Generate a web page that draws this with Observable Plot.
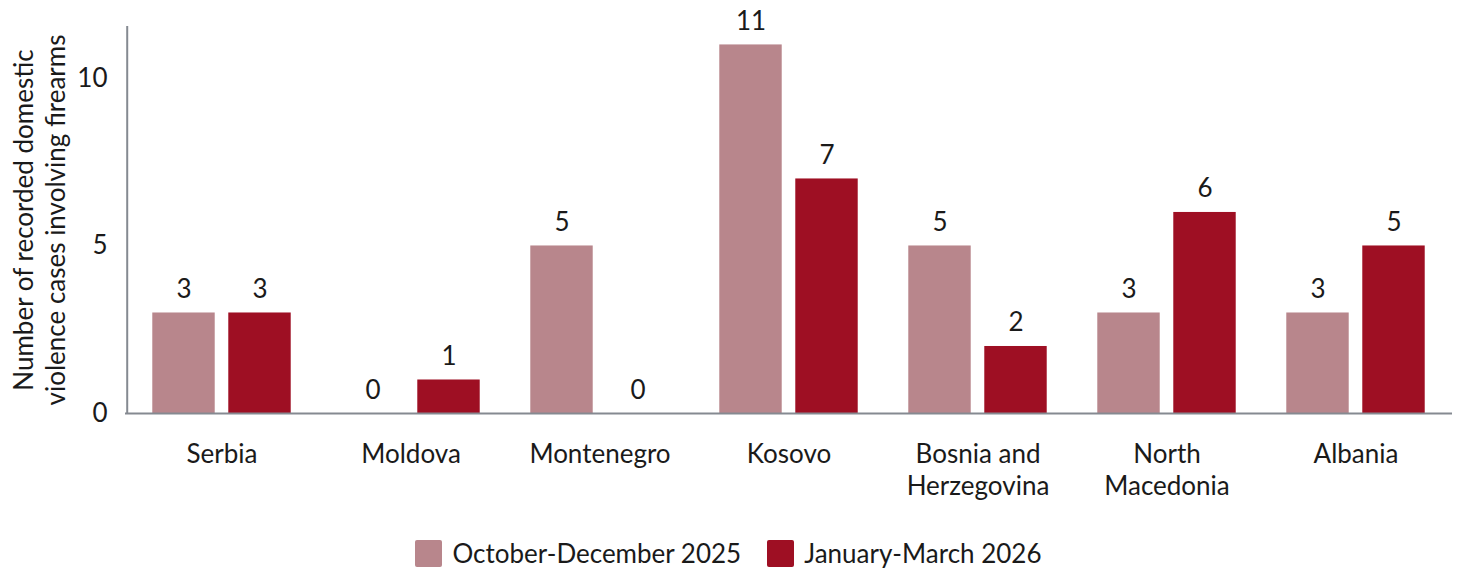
<!DOCTYPE html>
<html>
<head>
<meta charset="utf-8">
<script src="https://cdn.jsdelivr.net/npm/d3@7"></script>
<script src="https://cdn.jsdelivr.net/npm/@observablehq/plot@0.6"></script>
<style>
  html, body { margin: 0; padding: 0; background: #fff; }
  body { width: 1457px; height: 568px; overflow: hidden; font-family: Lato, "Noto Sans", sans-serif; }
  #legend { display: flex; justify-content: center; align-items: center; gap: 26px; margin-top: 12px; font-size: 26px; color: #1a1a1a; }
  .item { display: flex; align-items: center; gap: 10px; }
  .sw { width: 27px; height: 27px; border-radius: 2px; }
</style>
</head>
<body>
<div id="chart"></div>
<div id="legend"></div>
<script>
const countries = ["Serbia", "Moldova", "Montenegro", "Kosovo", "Bosnia and Herzegovina", "North Macedonia", "Albania"];
const tickLabels = ["Serbia", "Moldova", "Montenegro", "Kosovo", "Bosnia and\nHerzegovina", "North\nMacedonia", "Albania"];
const seriesNames = ["October-December 2025", "January-March 2026"];
const octDec2025 = [3, 0, 5, 11, 5, 3, 3];
const janMar2026 = [3, 1, 0, 7, 2, 6, 5];
const colors = ["#b8868c", "#9e0f23"];
const yTicks = [0, 5, 10];
const yTitle = "Number of recorded domestic\nviolence cases involving firearms";

const W = 1457, H = 525;
const mL = 125, mR = 5, mT = 26, mB = 112;
const FS = 26;
const band = (W - mL - mR) / countries.length;
const barW = 63, gap = 13;
const outer = (band - 2 * barW - gap) / 2;
const inner = band - outer - barW;

const d1 = countries.map((c, i) => ({country: c, value: octDec2025[i]}));
const d2 = countries.map((c, i) => ({country: c, value: janMar2026[i]}));
const labelOf = new Map(countries.map((c, i) => [c, tickLabels[i]]));

const axisColor = "#858a91";
const textColor = "#1a1a1a";

const chart = Plot.plot({
  width: W, height: H,
  marginLeft: mL, marginRight: mR, marginTop: mT, marginBottom: mB,
  style: {fontFamily: "Lato, 'Noto Sans', sans-serif", fontSize: FS + "px", color: textColor, background: "#fff"},
  x: {type: "band", domain: countries, padding: 0},
  y: {domain: [0, 11.55]},
  marks: [
    Plot.barY(d1, {x: "country", y: "value", fill: colors[0], insetLeft: outer, insetRight: inner}),
    Plot.barY(d2, {x: "country", y: "value", fill: colors[1], insetLeft: inner, insetRight: outer}),
    Plot.text(d1, {x: "country", y: "value", text: d => String(d.value), dx: -(gap + barW) / 2, dy: -15, lineAnchor: "bottom", fill: textColor, fontSize: FS}),
    Plot.text(d2, {x: "country", y: "value", text: d => String(d.value), dx: (gap + barW) / 2, dy: -15, lineAnchor: "bottom", fill: textColor, fontSize: FS}),
    Plot.ruleY([0], {stroke: axisColor, strokeWidth: 2}),
    Plot.ruleX([countries[0]], {stroke: axisColor, strokeWidth: 2, dx: -band / 2}),
    Plot.axisY({ticks: yTicks, tickSize: 0, tickPadding: 18, label: null, fontSize: FS, color: textColor}),
    Plot.axisX({tickSize: 0, tickPadding: 27.5, label: null, tickFormat: c => labelOf.get(c), lineHeight: 1.21, fontSize: FS, color: textColor}),
    Plot.text([yTitle], {text: d => d, frameAnchor: "left", rotate: -90, dx: -86.5, lineAnchor: "middle", lineHeight: 1.21, textAnchor: "middle", fill: textColor, fontSize: FS})
  ]
});
document.getElementById("chart").appendChild(chart);

const legend = document.getElementById("legend");
seriesNames.forEach((name, i) => {
  const item = document.createElement("div");
  item.className = "item";
  const sw = document.createElement("div");
  sw.className = "sw";
  sw.style.background = colors[i];
  const t = document.createElement("span");
  t.textContent = name;
  item.appendChild(sw);
  item.appendChild(t);
  legend.appendChild(item);
});
</script>
</body>
</html>
